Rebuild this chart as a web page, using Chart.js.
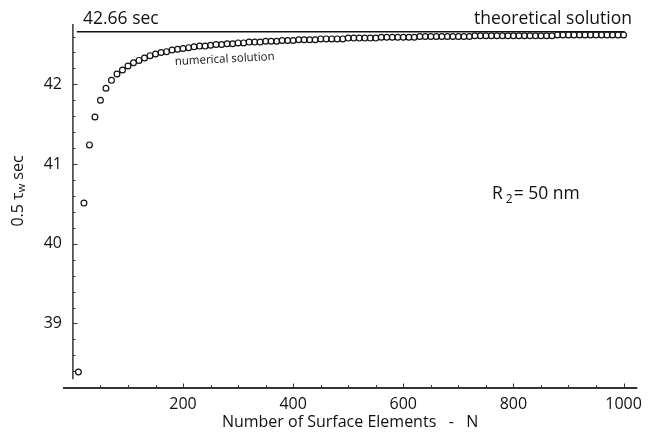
<!DOCTYPE html>
<html>
<head>
<meta charset="utf-8">
<script src="https://cdn.jsdelivr.net/npm/chart.js@4"></script>
<style>
  body { margin: 0; background: #fff; }
  #wrap { width: 649px; height: 443px; position: relative; }
</style>
</head>
<body>
<div id="wrap"><canvas id="myChart"></canvas></div>
<script>
// number of surface elements N
const elements = [
    10, 20, 30, 40, 50, 60, 70, 80, 90, 100,
    110, 120, 130, 140, 150, 160, 170, 180, 190, 200,
    210, 220, 230, 240, 250, 260, 270, 280, 290, 300,
    310, 320, 330, 340, 350, 360, 370, 380, 390, 400,
    410, 420, 430, 440, 450, 460, 470, 480, 490, 500,
    510, 520, 530, 540, 550, 560, 570, 580, 590, 600,
    610, 620, 630, 640, 650, 660, 670, 680, 690, 700,
    710, 720, 730, 740, 750, 760, 770, 780, 790, 800,
    810, 820, 830, 840, 850, 860, 870, 880, 890, 900,
    910, 920, 930, 940, 950, 960, 970, 980, 990, 1000
]
// 0.5 tau_w (sec), numerical solution
const numerical = [
    38.39, 40.51, 41.24, 41.59, 41.80, 41.95, 42.05, 42.13, 42.18, 42.23,
    42.27, 42.30, 42.33, 42.36, 42.38, 42.40, 42.41, 42.43, 42.44, 42.45,
    42.46, 42.47, 42.48, 42.48, 42.49, 42.50, 42.50, 42.51, 42.51, 42.52,
    42.52, 42.53, 42.53, 42.53, 42.54, 42.54, 42.54, 42.55, 42.55, 42.55,
    42.56, 42.56, 42.56, 42.56, 42.57, 42.57, 42.57, 42.57, 42.57, 42.58,
    42.58, 42.58, 42.58, 42.58, 42.58, 42.59, 42.59, 42.59, 42.59, 42.59,
    42.59, 42.59, 42.60, 42.60, 42.60, 42.60, 42.60, 42.60, 42.60, 42.60,
    42.60, 42.60, 42.61, 42.61, 42.61, 42.61, 42.61, 42.61, 42.61, 42.61,
    42.61, 42.61, 42.61, 42.61, 42.61, 42.61, 42.61, 42.62, 42.62, 42.62,
    42.62, 42.62, 42.62, 42.62, 42.62, 42.62, 42.62, 42.62, 42.62, 42.62
]
const theoretical = 42.66
const xTicks = [200, 400, 600, 800, 1000]
const yTicks = [39, 40, 41, 42]

const FONT = "'Open Sans', sans-serif"
const ink = '#111'

let pts = []
elements.forEach((n, i) => {
    pts.push({x: n, y: numerical[i]})
})

// axes drawn Mathematica style: detached, ticks pointing inwards
const axesPlugin = {
    id: 'axesPlugin',
    afterDraw(chart) {
        const ctx = chart.ctx
        const xs = chart.scales.x
        const ys = chart.scales.y
        const area = chart.chartArea
        const x0 = xs.getPixelForValue(0)
        ctx.save()
        ctx.strokeStyle = '#333'
        // y axis
        ctx.lineWidth = 1.5
        ctx.beginPath()
        ctx.moveTo(x0, area.top)
        ctx.lineTo(x0, ys.getPixelForValue(38.3))
        ctx.stroke()
        ctx.lineWidth = 1
        for (let v = 38.4; v < 42.75; v += 0.2) {
            const y = Math.round(ys.getPixelForValue(v)) + 0.5
            const major = Math.abs(v - Math.round(v)) < 0.01
            ctx.beginPath()
            ctx.moveTo(x0, y)
            ctx.lineTo(x0 + (major ? 4.5 : 2.5), y)
            ctx.stroke()
        }
        // x axis
        ctx.lineWidth = 2
        ctx.beginPath()
        ctx.moveTo(area.left, area.bottom)
        ctx.lineTo(area.right, area.bottom)
        ctx.stroke()
        ctx.lineWidth = 1
        for (let v = 50; v <= 1000; v += 50) {
            const x = Math.round(xs.getPixelForValue(v)) + 0.5
            const major = v % 200 === 0
            ctx.beginPath()
            ctx.moveTo(x, area.bottom)
            ctx.lineTo(x, area.bottom - (major ? 4.5 : 3))
            ctx.stroke()
        }

        ctx.fillStyle = '#111'
        ctx.textBaseline = 'alphabetic'
        // annotations
        ctx.font = '17.5px ' + FONT
        ctx.textAlign = 'left'
        ctx.fillText(theoretical.toFixed(2) + ' sec', 83, 24)
        ctx.textAlign = 'right'
        ctx.fillText('theoretical solution', 632, 24)

        ctx.save()
        ctx.translate(175, 65)
        ctx.rotate(-2.9 * Math.PI / 180)
        ctx.font = '11.5px ' + FONT
        ctx.textAlign = 'left'
        ctx.fillText('numerical solution', 0, 0)
        ctx.restore()

        // R2 = 50 nm
        ctx.textAlign = 'left'
        ctx.font = '17.5px ' + FONT
        let px = 492
        ctx.fillText('R', px, 199)
        px += ctx.measureText('R').width + 3
        ctx.font = '12px ' + FONT
        ctx.fillText('2', px, 203)
        px += ctx.measureText('2').width + 1
        ctx.font = '17.5px ' + FONT
        ctx.fillText('= 50 nm', px, 199)

        // y axis title with subscript
        ctx.save()
        ctx.translate(18, 191)
        ctx.rotate(-Math.PI / 2)
        ctx.textBaseline = 'middle'
        ctx.font = '16px ' + FONT
        const a = '0.5 \u03c4', c = ' sec'
        const wa = ctx.measureText(a).width
        const wc = ctx.measureText(c).width
        ctx.font = '11px ' + FONT
        const wb = ctx.measureText('w').width
        let tx = -(wa + wb + wc) / 2
        ctx.font = '16px ' + FONT
        ctx.fillText(a, tx, 0)
        tx += wa
        ctx.font = '11px ' + FONT
        ctx.fillText('w', tx, 4)
        tx += wb
        ctx.font = '16px ' + FONT
        ctx.fillText(c, tx, 0)
        ctx.restore()

        ctx.restore()
    }
}

const ctx1 = document.getElementById('myChart')

new Chart(ctx1, {
    type: 'scatter',
    data: {
        datasets: [{
            label: 'numerical solution',
            data: pts,
            showLine: false,
            pointStyle: 'circle',
            pointRadius: 2.9,
            pointBorderWidth: 1.2,
            borderColor: '#111',
            backgroundColor: 'rgba(0,0,0,0)'
        }, {
            label: 'theoretical solution',
            data: [
                {x: elements[0] - 3, y: theoretical},
                {x: elements[elements.length - 1] + 2, y: theoretical}
            ],
            showLine: true,
            pointRadius: 0,
            borderColor: '#111',
            borderWidth: 1.6
        }]
    },
    plugins: [axesPlugin],
    options: {
        responsive: true,
        maintainAspectRatio: false,
        animation: false,
        layout: {
            padding: {top: 24, right: 7, left: 0, bottom: 0}
        },
        plugins: {
            legend: {display: false},
            tooltip: {enabled: false}
        },
        scales: {
            x: {
                type: 'linear',
                min: -18,
                max: 1025,
                afterBuildTicks: (scale) => {
                    scale.ticks = xTicks.map(v => ({value: v}))
                },
                afterFit: (scale) => {
                    scale.height = 55
                },
                grid: {display: false, drawTicks: false},
                border: {display: false},
                ticks: {
                    color: ink,
                    padding: 7,
                    font: {family: FONT, size: 16},
                    callback: (value) => String(value)
                },
                title: {
                    display: true,
                    text: 'Number of Surface Elements   -   N',
                    color: ink,
                    font: {family: FONT, size: 16},
                    padding: {top: 0, bottom: 11}
                }
            },
            y: {
                type: 'linear',
                min: 38.19,
                max: 42.757,
                afterBuildTicks: (scale) => {
                    scale.ticks = yTicks.map(v => ({value: v}))
                },
                afterFit: (scale) => {
                    scale.width = 63
                },
                grid: {display: false, drawTicks: false},
                border: {display: false},
                ticks: {
                    color: ink,
                    padding: 1,
                    font: {family: FONT, size: 16},
                    callback: (value) => String(value)
                }
            }
        }
    }
});
</script>
</body>
</html>
